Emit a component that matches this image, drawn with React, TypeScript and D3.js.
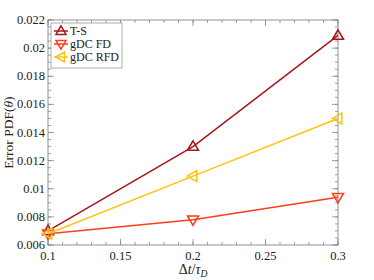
import React from "react";
import * as d3 from "d3";

const xValues = [0.1, 0.2, 0.3];
const seriesNames = ["T-S", "gDC FD", "gDC RFD"];
const tsValues = [0.0070, 0.0130, 0.0209];
const fdValues = [0.0068, 0.0078, 0.0094];
const rfdValues = [0.0068, 0.0109, 0.0150];
const xTicks = [0.1, 0.15, 0.2, 0.25, 0.3];
const xTickLabels = ["0.1", "0.15", "0.2", "0.25", "0.3"];
const yTicks = [0.006, 0.008, 0.01, 0.012, 0.014, 0.016, 0.018, 0.02, 0.022];
const yTickLabels = ["0.006", "0.008", "0.01", "0.012", "0.014", "0.016", "0.018", "0.02", "0.022"];

const colors = ["#a8141a", "#ff3d17", "#ffc20e"];
const markerDirs = ["up", "down", "left"];

const W = 374, H = 280;
const L = 48, R = 338, T = 20, B = 245;
const FONT = "'Liberation Serif', 'DejaVu Serif', serif";

function markerPath(dir: string, cx: number, cy: number, s: number) {
  const h = s * 0.866;
  if (dir === "up") return `M${cx},${cy - h * 0.6}L${cx + s / 2},${cy + h * 0.4}L${cx - s / 2},${cy + h * 0.4}Z`;
  if (dir === "down") return `M${cx},${cy + h * 0.6}L${cx + s / 2},${cy - h * 0.4}L${cx - s / 2},${cy - h * 0.4}Z`;
  return `M${cx - h * 0.6},${cy}L${cx + h * 0.4},${cy - s / 2}L${cx + h * 0.4},${cy + s / 2}Z`;
}

export default function App() {
  const x = d3.scaleLinear().domain([0.1, 0.3]).range([L, R]);
  const y = d3.scaleLinear().domain([0.006, 0.022]).range([B, T]);
  const allSeries = [tsValues, fdValues, rfdValues];
  const line = d3.line<number>().x((_, i) => x(xValues[i])).y((d) => y(d));
  const xMinor = d3.range(0.1, 0.3001, 0.01);
  const yMinor = d3.range(0.006, 0.02201, 0.0005);
  const axisColor = "#888";
  return (
    <svg width={W} height={H} style={{ display: "block", position: "absolute", left: 0, top: 0 }}>
      <rect x={0} y={0} width={W} height={H} fill="#fff" />
      {xMinor.map((v, i) => (
        <g key={"xm" + i} stroke={axisColor} strokeWidth={0.8}>
          <line x1={x(v)} x2={x(v)} y1={B} y2={B - 3} />
          <line x1={x(v)} x2={x(v)} y1={T} y2={T + 3} />
        </g>
      ))}
      {yMinor.map((v, i) => (
        <g key={"ym" + i} stroke={axisColor} strokeWidth={0.8}>
          <line x1={L} x2={L + 3} y1={y(v)} y2={y(v)} />
          <line x1={R} x2={R - 3} y1={y(v)} y2={y(v)} />
        </g>
      ))}
      {xTicks.map((v, i) => (
        <g key={"xt" + i}>
          <line x1={x(v)} x2={x(v)} y1={B} y2={B - 6} stroke={axisColor} strokeWidth={0.8} />
          <line x1={x(v)} x2={x(v)} y1={T} y2={T + 6} stroke={axisColor} strokeWidth={0.8} />
          <text x={x(v)} y={B + 15} textAnchor="middle" fontFamily={FONT} fontSize={12.5} fill="#222">
            {xTickLabels[i]}
          </text>
        </g>
      ))}
      {yTicks.map((v, i) => (
        <g key={"yt" + i}>
          <line x1={L} x2={L + 6} y1={y(v)} y2={y(v)} stroke={axisColor} strokeWidth={0.8} />
          <line x1={R} x2={R - 6} y1={y(v)} y2={y(v)} stroke={axisColor} strokeWidth={0.8} />
          <text x={L - 3} y={y(v) + 4} textAnchor="end" fontFamily={FONT} fontSize={12.5} fill="#222">
            {yTickLabels[i]}
          </text>
        </g>
      ))}
      <rect x={L} y={T} width={R - L} height={B - T} fill="none" stroke={axisColor} strokeWidth={0.9} />
      {allSeries.map((s, k) => (
        <g key={"s" + k}>
          <path d={line(s) || ""} fill="none" stroke={colors[k]} strokeWidth={1.5} />
          {s.map((v, i) => (
            <path key={i} d={markerPath(markerDirs[k], x(xValues[i]), y(v), 11)} fill="none" stroke={colors[k]} strokeWidth={1.5} />
          ))}
        </g>
      ))}
      <rect x={51} y={23} width={71} height={45} fill="#fff" stroke="#999" strokeWidth={0.8} />
      {seriesNames.map((n, k) => (
        <g key={"l" + k}>
          <line x1={54} x2={68} y1={31 + k * 13} y2={31 + k * 13} stroke={colors[k]} strokeWidth={1.5} />
          <path d={markerPath(markerDirs[k], 61, 31 + k * 13, 10)} fill="none" stroke={colors[k]} strokeWidth={1.5} />
          <text x={70} y={35 + k * 13} fontFamily={FONT} fontSize={12} fill="#222">{n}</text>
        </g>
      ))}
      <text transform={`translate(13,${(T + B) / 2}) rotate(-90)`} textAnchor="middle" fontFamily={FONT} fontSize={13.5} fill="#222">
        Error PDF(<tspan fontStyle="italic">θ</tspan>)
      </text>
      <text x={(L + R) / 2} y={274} textAnchor="middle" fontFamily={FONT} fontSize={14} fill="#222">
        Δ<tspan fontStyle="italic">t</tspan>/<tspan fontStyle="italic">τ</tspan><tspan fontStyle="italic" fontSize={9.5} dy={3}>D</tspan>
      </text>
    </svg>
  );
}
